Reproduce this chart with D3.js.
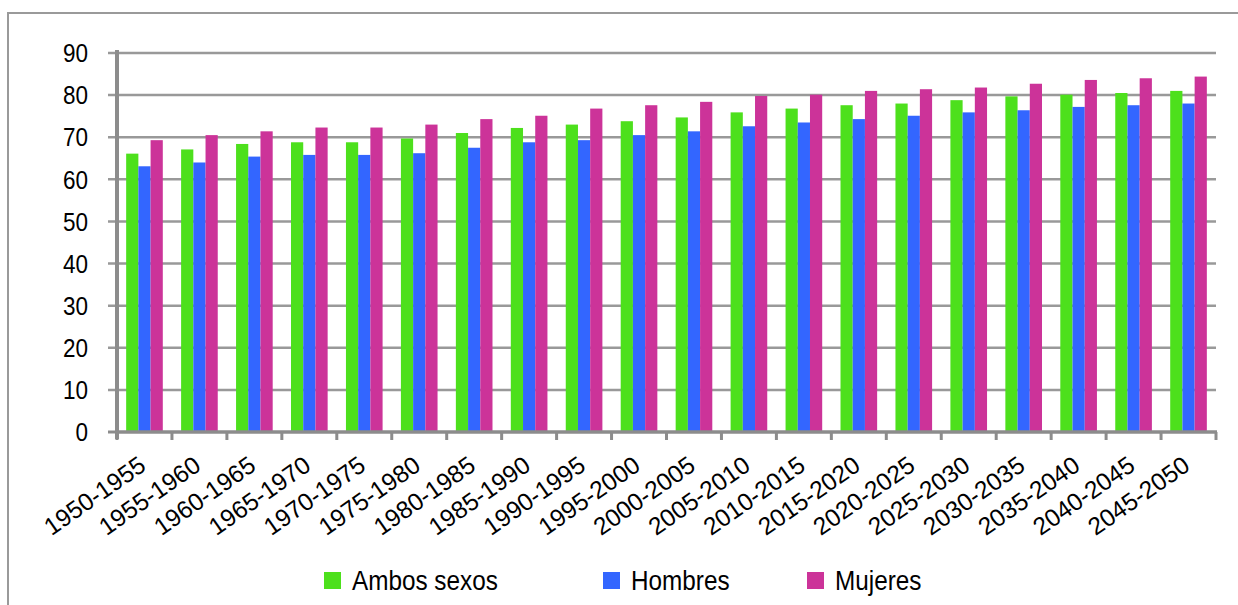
<!DOCTYPE html>
<html>
<head>
<meta charset="utf-8">
<script src="https://cdn.jsdelivr.net/npm/d3@7"></script>
<style>
  html, body { margin: 0; padding: 0; background: #fff; }
  svg { display: block; font-family: "Liberation Sans", Arial, sans-serif; }
</style>
</head>
<body>
<svg id="chart" width="1238" height="605"></svg>
<script>
// Esperanza de vida al nacer por quinquenio
const periods = [
  "1950-1955", "1955-1960", "1960-1965", "1965-1970", "1970-1975",
  "1975-1980", "1980-1985", "1985-1990", "1990-1995", "1995-2000",
  "2000-2005", "2005-2010", "2010-2015", "2015-2020", "2020-2025",
  "2025-2030", "2030-2035", "2035-2040", "2040-2045", "2045-2050"
];
const ambosSexos = [66.1, 67.1, 68.4, 68.8, 68.8, 69.7, 71.0, 72.2, 73.0, 73.8,
                    74.7, 75.9, 76.8, 77.6, 78.0, 78.8, 79.7, 80.1, 80.5, 81.0];
const hombres    = [63.1, 64.0, 65.4, 65.8, 65.8, 66.2, 67.5, 68.8, 69.3, 70.5,
                    71.4, 72.6, 73.5, 74.3, 75.1, 75.9, 76.4, 77.2, 77.6, 78.0];
const mujeres    = [69.3, 70.5, 71.4, 72.3, 72.3, 73.0, 74.3, 75.1, 76.8, 77.6,
                    78.4, 79.8, 80.1, 81.0, 81.4, 81.8, 82.7, 83.6, 84.0, 84.4];
const seriesNames = ["Ambos sexos", "Hombres", "Mujeres"];
const seriesColors = ["#4de01c", "#3366ff", "#cc3399"];
const yTicks = [0, 10, 20, 30, 40, 50, 60, 70, 80, 90];

const seriesValues = [ambosSexos, hombres, mujeres];
const rows = periods.map((p, i) => ({ period: p, values: seriesValues.map(s => s[i]) }));

const svg = d3.select("#chart");
const gridColor = "#999999";
const axisColor = "#8c8c8c";

// Outer frame
svg.append("rect")
  .attr("x", 8).attr("y", 13)
  .attr("width", 1260).attr("height", 620)
  .attr("fill", "none").attr("stroke", "#9a9a9a").attr("stroke-width", 2);

const plotLeft = 117, plotRight = 1216, plotTop = 53, plotBottom = 432;

const x = d3.scaleBand().domain(periods)
  .range([plotLeft, plotRight]).paddingInner(1 / 3).paddingOuter(1 / 6);
const xs = d3.scaleBand().domain(seriesNames).range([0, x.bandwidth()]);
const y = d3.scaleLinear().domain([0, 90]).range([plotBottom, plotTop]);

// Horizontal gridlines with tick stubs on the left
svg.append("g").selectAll("line").data(yTicks.filter(t => t > 0)).join("line")
  .attr("x1", 108).attr("x2", plotRight)
  .attr("y1", d => y(d)).attr("y2", d => y(d))
  .attr("stroke", gridColor).attr("stroke-width", 2.5);

// Bars
const groups = svg.append("g").selectAll("g").data(rows).join("g")
  .attr("transform", d => `translate(${x(d.period)},0)`);
groups.selectAll("rect").data(d => d.values.map((v, k) => ({ v, k }))).join("rect")
  .attr("x", d => xs(seriesNames[d.k]))
  .attr("width", xs.bandwidth())
  .attr("y", d => y(d.v))
  .attr("height", d => y(0) - y(d.v))
  .attr("fill", d => seriesColors[d.k]);

// Y axis line and zero tick stub
svg.append("line")
  .attr("x1", plotLeft).attr("x2", plotLeft)
  .attr("y1", plotTop - 3).attr("y2", plotBottom + 7)
  .attr("stroke", axisColor).attr("stroke-width", 4);
svg.append("line")
  .attr("x1", 108).attr("x2", plotLeft)
  .attr("y1", y(0)).attr("y2", y(0))
  .attr("stroke", axisColor).attr("stroke-width", 3);

// X axis line with boundary ticks
svg.append("line")
  .attr("x1", plotLeft).attr("x2", plotRight + 1)
  .attr("y1", y(0)).attr("y2", y(0))
  .attr("stroke", axisColor).attr("stroke-width", 3.5);
const boundaries = d3.range(periods.length + 1).map(i => x.range()[0] + i * x.step());
svg.append("g").selectAll("line").data(boundaries).join("line")
  .attr("x1", d => d).attr("x2", d => d)
  .attr("y1", y(0)).attr("y2", y(0) + 8)
  .attr("stroke", axisColor).attr("stroke-width", 3);

// Y tick labels
svg.append("g").selectAll("text").data(yTicks).join("text")
  .attr("transform", d => `translate(88,${y(d)}) scale(1,1.14)`)
  .attr("dy", "0.36em")
  .attr("text-anchor", "end")
  .attr("font-size", 22.5)
  .attr("fill", "#000")
  .text(d => d);

// X tick labels, rotated
svg.append("g").selectAll("text").data(periods).join("text")
  .attr("transform", d => `translate(${x(d) + x.bandwidth() / 2 + 3},469) rotate(-35)`)
  .attr("text-anchor", "end")
  .attr("font-size", 24.5)
  .attr("fill", "#000")
  .text(d => d);

// Legend
const legendX = [324, 603, 807];
const legend = svg.append("g").selectAll("g").data(seriesNames).join("g")
  .attr("transform", (d, i) => `translate(${legendX[i]},572)`);
legend.append("rect")
  .attr("width", 17).attr("height", 17)
  .attr("fill", (d, i) => seriesColors[i]);
legend.append("text")
  .attr("transform", "translate(28,18) scale(1,1.1)")
  .attr("font-size", 24.3)
  .attr("fill", "#000")
  .text(d => d);
</script>
</body>
</html>
